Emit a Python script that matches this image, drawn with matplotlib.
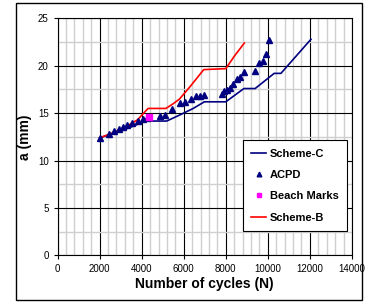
import numpy as np
import matplotlib.pyplot as plt
from matplotlib.patches import Rectangle

plt.rcParams['font.family'] = ['Liberation Sans', 'DejaVu Sans']

# Scheme-C prediction
schemeC_N = [2000, 3000, 4190, 5190, 5800, 6450, 6980, 8000, 8860, 9395, 10300, 10620, 12050]
schemeC_a = [12.4, 13.1, 14.17, 14.17, 14.8, 15.5, 16.2, 16.2, 17.6, 17.6, 19.2, 19.2, 22.8]

# Scheme-B prediction
schemeB_N = [2000, 2600, 3200, 3800, 4300, 5150, 5500, 5800, 6300, 6950, 8000, 8400, 8880]
schemeB_a = [12.4, 12.9, 13.5, 14.3, 15.5, 15.5, 16.0, 16.5, 17.8, 19.6, 19.7, 21.0, 22.4]

# ACPD measurements
acpd_N = [2000, 2450, 2700, 2900, 3100, 3300, 3550, 3800, 4050, 4250,
          4850, 5120, 5450, 5800, 6050, 6330, 6580, 6780, 6980,
          7800, 7930, 8060, 8200, 8330, 8540, 8670, 8870,
          9370, 9560, 9760, 9910, 10070]
acpd_a = [12.4, 12.85, 13.1, 13.3, 13.5, 13.7, 13.95, 14.15, 14.4, 14.5,
          14.7, 14.85, 15.4, 16.1, 16.15, 16.45, 16.8, 16.85, 16.9,
          17.0, 17.3, 17.45, 17.7, 18.05, 18.6, 18.85, 19.3,
          19.4, 20.3, 20.55, 21.25, 22.7]

# Beach marks
beach_N = [4330]
beach_a = [14.6]

fig = plt.figure(figsize=(3.67, 3.02), dpi=100)
ax = fig.add_axes([0.157, 0.1546, 0.802, 0.7844])

ax.plot(schemeC_N, schemeC_a, color='#000080', lw=1.2, label='Scheme-C', zorder=3)
ax.plot(acpd_N, acpd_a, '^', color='#000080', ms=4.8, ls='none', label='ACPD', zorder=4)
ax.plot(beach_N, beach_a, 's', color='#ff00ff', ms=5, ls='none', label='Beach Marks', zorder=5)
ax.plot(schemeB_N, schemeB_a, color='#ff0000', lw=1.2, label='Scheme-B', zorder=3)

ax.set_xlim(0, 14000)
ax.set_ylim(0, 25)
ax.set_xticks(np.arange(0, 14001, 2000))
ax.set_yticks(np.arange(0, 26, 5))
ax.set_xticks(np.arange(0, 14001, 400), minor=True)
ax.set_yticks(np.arange(0, 25.1, 2.5), minor=True)
ax.grid(which='minor', color='#cfcfcf', lw=1.0, zorder=0)
ax.grid(which='major', color='black', lw=0.8, zorder=1)
ax.set_axisbelow(True)
ax.tick_params(which='minor', length=0)
ax.tick_params(which='major', direction='out', length=3, labelsize=7, width=0.8)
for s in ax.spines.values():
    s.set_linewidth(0.8)

ax.set_xlabel('Number of cycles (N)', fontsize=10, fontweight='bold', labelpad=2)
ax.set_ylabel('a (mm)', fontsize=10, fontweight='bold', labelpad=4)

leg = ax.legend(loc='lower right', bbox_to_anchor=(0.983, 0.103), borderaxespad=0,
                prop={'weight': 'bold', 'size': 8}, frameon=True, fancybox=False,
                edgecolor='black', framealpha=1, handlelength=1.4, markerscale=0.7,
                handletextpad=0.3, borderpad=0.75, labelspacing=1.02)
leg.get_frame().set_linewidth(0.8)

fig.patches.append(Rectangle((16 / 367, 2 / 302), 346 / 367, 297 / 302,
                             transform=fig.transFigure, fill=False,
                             edgecolor='black', lw=1.0))

plt.savefig('out.png', dpi=100)
